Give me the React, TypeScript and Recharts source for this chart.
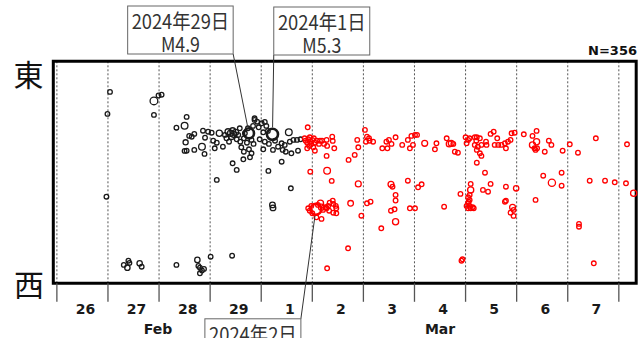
import React from 'react';
import {
  ScatterChart,
  Scatter,
  XAxis,
  YAxis,
  CartesianGrid,
  ReferenceArea,
  ReferenceDot,
  Customized,
} from 'recharts';

// [days since 26 Feb 2024 00:00, east–west position (km from western edge), magnitude]
type Quake = [number, number, number];

const T_MIN = -0.07;
const T_MAX = 11.34;
const EW_MAX = 111;
const RECENT_FROM = 4.8; // events from this time on are drawn in red
const TOTAL_EVENTS = 356;

const DAY_TICKS = [0, 1, 2, 3, 4, 5, 6, 7, 8, 9, 10, 11];
const DAY_LABEL_OFFSET = 0.56; // day labels sit inside each day, slightly right of centre
const DAY_LABELS = ['26', '27', '28', '29', '1', '2', '3', '4', '5', '6', '7'];
const MONTH_TICKS = [1.98, 7.5];
const MONTH_LABELS = ['Feb', 'Mar'];

// largest events, called out with a note box
const quakeFeb29: Quake = [3.76, 75.0, 4.9];
const quakeMar1: Quake = [4.22, 74.5, 5.3];
const quakeMar2: Quake = [5.07, 37.0, 5.2];

const feb26: Quake[] = [
  [0.97, 43.3, 2.2], [0.99, 84.7, 2.4],
];

const feb27: Quake[] = [
  [1.04, 95.7, 2.3], [1.9, 91.2, 4.0], [1.99, 93.9, 2.2], [1.9, 84.2, 2.2],
  [1.31, 9.2, 2.3], [1.4, 11.3, 2.4], [1.42, 10.2, 2.2], [1.38, 7.8, 3.1],
  [1.62, 10.0, 3.1], [1.66, 8.3, 2.3],
];

const feb28: Quake[] = [
  [2.05, 94.3, 2.2], [2.54, 83.2, 2.3], [2.34, 77.8, 2.4], [2.5, 78.8, 3.6],
  [2.59, 73.7, 2.2], [2.64, 73.3, 2.3], [2.69, 74.7, 2.2], [2.86, 76.3, 2.5],
  [2.96, 75.8, 2.3], [2.52, 70.5, 3.0], [2.9, 72.8, 2.2], [2.84, 68.3, 3.6],
  [2.5, 66.2, 2.3], [2.54, 66.3, 2.2], [2.69, 66.7, 2.4], [2.89, 64.7, 2.3],
  [2.34, 9.2, 2.2], [2.75, 11.7, 3.1], [2.77, 8.7, 2.4], [2.8, 7.8, 2.6],
  [2.8, 5.0, 2.3], [2.88, 7.2, 2.2], [2.84, 6.4, 2.5],
];

const feb29: Quake[] = [
  [3.01, 13.3, 2.3], [3.43, 13.8, 2.2], [3.13, 51.7, 2.4], [3.03, 75.3, 2.3],
  [3.18, 75.0, 3.4], [3.29, 74.2, 2.4], [3.35, 75.8, 3.3], [3.4, 75.0, 3.4],
  [3.44, 76.3, 3.3], [3.46, 74.5, 3.4], [3.5, 75.5, 3.3], [3.55, 74.2, 2.5],
  [3.42, 73.3, 3.2], [3.68, 75.0, 2.6], quakeFeb29, [3.87, 81.7, 2.2],
  [3.92, 80.8, 2.3], [3.84, 78.7, 2.4], [3.95, 78.0, 2.2], [3.87, 82.5, 2.3],
  [3.06, 71.3, 2.3], [3.13, 70.3, 2.2], [3.32, 72.5, 2.4], [3.37, 70.8, 2.3],
  [3.52, 72.0, 2.5], [3.59, 70.8, 2.3], [3.66, 72.5, 2.2], [3.72, 70.3, 2.4],
  [3.81, 71.7, 2.3], [3.85, 69.7, 2.2], [3.09, 67.5, 2.3], [3.25, 68.3, 2.4],
  [3.61, 68.0, 2.2], [3.66, 65.8, 2.3], [3.76, 67.0, 2.5], [3.81, 65.0, 2.2],
  [3.65, 62.0, 2.3], [3.78, 63.0, 2.4], [3.44, 60.0, 2.3], [3.52, 56.7, 2.2],
  [3.58, 77.5, 2.3], [3.74, 77.5, 2.4], [3.97, 72.0, 2.3],
];

const mar1: Quake[] = [
  [4.01, 80.0, 2.3], [4.07, 80.7, 2.2], [4.1, 78.7, 2.4], quakeMar1,
  [4.54, 75.5, 3.6], [4.04, 75.5, 2.3], [4.07, 70.8, 2.2], [4.15, 69.7, 2.4],
  [4.27, 71.3, 2.3], [4.33, 68.3, 2.2], [4.4, 70.0, 2.5], [4.46, 69.2, 2.3],
  [4.56, 70.8, 2.2], [4.7, 71.7, 2.4], [4.77, 72.0, 2.3], [4.04, 67.0, 2.2],
  [4.23, 66.7, 2.3], [4.42, 66.7, 2.4], [4.48, 65.8, 2.2], [4.59, 65.0, 2.3],
  [4.72, 66.3, 2.2], [4.4, 60.8, 2.3], [4.14, 56.2, 2.4], [4.58, 47.5, 2.3],
  [4.22, 39.2, 3.2], [4.23, 37.7, 3.2], [4.63, 71.7, 2.3], [4.13, 76.2, 2.2],
  [4.91, 78.0, 2.3], [4.85, 72.5, 2.4], [4.87, 71.3, 2.2], [4.9, 70.3, 2.3],
  [4.92, 72.0, 2.5], [4.95, 73.0, 2.3], [4.96, 70.8, 2.2], [4.98, 69.7, 2.4],
  [4.94, 68.7, 2.3], [4.9, 67.5, 2.2], [4.96, 55.8, 2.3], [4.92, 37.5, 2.4],
  [4.95, 36.3, 2.3], [4.98, 38.7, 2.5],
];

const mar2: Quake[] = [
  [5.0, 71.7, 2.3], [5.03, 72.5, 2.2], [5.05, 70.3, 2.4], [5.02, 68.0, 2.3],
  [5.05, 66.3, 2.2], [5.09, 71.3, 2.3], [5.15, 71.3, 2.4], [5.19, 71.3, 2.2],
  [5.13, 69.7, 2.3], [5.23, 69.7, 2.5], [5.28, 71.7, 2.3], [5.29, 68.7, 2.2],
  [5.39, 73.3, 2.4], [5.4, 71.2, 2.3], [5.43, 67.5, 2.2], [5.28, 63.7, 2.3],
  [5.29, 56.3, 3.6], [5.38, 51.2, 2.3], quakeMar2, [5.0, 35.0, 2.3],
  [5.11, 39.2, 2.4], [5.16, 40.0, 3.4], [5.18, 38.0, 3.4], [5.21, 36.7, 2.3],
  [5.26, 38.0, 2.4], [5.31, 38.7, 2.2], [5.34, 40.3, 2.3], [5.4, 41.3, 2.5],
  [5.41, 39.7, 2.3], [5.46, 38.7, 2.2], [5.47, 37.5, 2.4], [5.33, 36.3, 2.3],
  [5.41, 35.3, 2.2], [5.08, 33.0, 2.3], [5.18, 32.2, 2.4], [5.47, 35.0, 2.3],
  [5.28, 37.5, 2.2], [5.75, 40.0, 3.2], [5.96, 33.8, 2.3], [5.71, 61.7, 2.4],
  [5.83, 64.2, 2.3], [5.9, 68.0, 2.2], [5.88, 71.7, 2.3], [5.9, 49.7, 3.3],
  [5.7, 17.5, 2.4], [5.29, 7.5, 2.3],
];

const mar3: Quake[] = [
  [6.03, 76.7, 2.4], [6.07, 73.3, 2.3], [6.11, 72.5, 2.2], [6.05, 70.8, 2.3],
  [6.19, 70.8, 2.4], [6.12, 71.3, 2.2], [6.07, 40.0, 2.3], [6.14, 40.8, 2.4],
  [6.37, 67.5, 2.3], [6.47, 67.5, 2.2], [6.45, 70.8, 2.4], [6.5, 71.7, 2.3],
  [6.63, 73.0, 2.2], [6.55, 69.7, 2.3], [6.54, 49.5, 3.3], [6.57, 48.3, 2.3],
  [6.63, 44.2, 2.4], [6.63, 41.4, 2.3], [6.61, 37.0, 2.2], [6.54, 36.3, 2.3],
  [6.63, 30.8, 3.4], [6.35, 27.5, 2.3], [6.76, 69.2, 2.3], [6.87, 71.7, 2.4],
  [6.94, 73.7, 2.2], [6.97, 69.2, 2.3], [6.91, 67.5, 2.2], [6.87, 51.3, 2.4],
  [6.91, 37.5, 2.3],
];

const mar4: Quake[] = [
  [7.01, 74.2, 2.3], [7.05, 74.2, 2.2], [7.2, 70.0, 3.3], [7.43, 70.0, 2.3],
  [7.4, 67.0, 2.4], [7.63, 72.5, 2.3], [7.68, 69.7, 3.3], [7.72, 70.0, 3.3],
  [7.76, 69.7, 2.2], [7.79, 65.8, 2.3], [7.85, 65.3, 2.4], [7.07, 48.0, 2.3],
  [7.14, 49.5, 2.4], [7.01, 37.5, 2.2], [7.58, 38.3, 2.3], [7.9, 44.7, 2.4],
  [7.92, 11.3, 2.3], [7.94, 12.0, 2.4],
];

const mar5: Quake[] = [
  [8.0, 73.0, 2.3], [8.05, 71.7, 2.2], [8.08, 72.5, 2.4], [8.18, 73.0, 2.3],
  [8.22, 73.0, 2.2], [8.28, 72.5, 2.4], [8.21, 71.3, 2.3], [8.18, 69.2, 2.5],
  [8.24, 68.3, 2.3], [8.31, 69.2, 2.2], [8.22, 66.7, 2.4], [8.28, 65.0, 2.3],
  [8.31, 63.7, 2.2], [8.4, 70.8, 2.3], [8.41, 69.2, 2.4], [8.49, 74.7, 2.3],
  [8.55, 75.8, 2.2], [8.62, 72.5, 2.3], [8.57, 69.2, 2.4], [8.64, 69.2, 2.2],
  [8.7, 69.2, 2.3], [8.77, 70.0, 2.5], [8.83, 70.8, 2.3], [8.79, 67.5, 2.2],
  [8.9, 75.0, 2.3], [8.96, 75.3, 2.4], [8.22, 60.3, 2.3], [8.38, 55.3, 2.2],
  [8.1, 49.7, 2.4], [8.1, 46.7, 3.4], [8.08, 44.2, 2.3], [8.05, 43.0, 2.4],
  [8.08, 41.7, 2.3], [8.05, 40.0, 2.5], [8.08, 38.7, 2.4], [8.05, 37.5, 2.3],
  [8.1, 37.5, 2.6], [8.14, 38.0, 2.3], [8.16, 37.5, 2.2], [8.02, 38.7, 2.3],
  [8.06, 40.8, 2.4], [8.34, 46.7, 2.3], [8.44, 45.8, 2.2], [8.49, 49.7, 2.3],
  [8.79, 48.3, 2.4], [8.77, 40.8, 2.3], [8.79, 41.3, 2.2], [8.92, 38.0, 3.3],
  [8.94, 36.7, 2.3], [8.88, 35.3, 2.4], [8.94, 33.7, 2.3], [8.99, 47.5, 3.1],
  [8.02, 70.0, 2.3], [8.88, 71.7, 2.3],
];

const mar6: Quake[] = [
  [9.14, 74.5, 2.3], [9.31, 73.7, 2.2], [9.39, 76.2, 2.4], [9.39, 70.8, 3.4],
  [9.31, 69.2, 3.4], [9.35, 67.5, 2.3], [9.37, 66.7, 2.2], [9.4, 67.5, 2.4],
  [9.55, 65.8, 2.3], [9.63, 71.3, 2.3], [9.68, 69.2, 2.4], [9.9, 66.3, 2.3],
  [9.52, 53.8, 2.3], [9.88, 55.3, 2.2], [9.69, 50.3, 3.8], [9.88, 48.8, 2.3],
  [9.37, 41.7, 2.4],
];

const mar7: Quake[] = [
  [10.04, 69.5, 2.3], [10.2, 65.3, 2.4], [10.55, 72.5, 2.3], [10.43, 51.3, 2.3],
  [10.73, 51.3, 2.4], [10.92, 50.5, 2.3], [10.22, 29.7, 2.3], [10.22, 28.3, 2.4],
  [10.51, 10.0, 2.3],
];

const mar8: Quake[] = [
  [11.16, 69.5, 2.3], [11.14, 50.0, 2.3], [11.29, 45.0, 3.4],
];

const NOTES = [
  { quake: quakeFeb29, date: '2024年29日' },
  { quake: quakeMar1, date: '2024年1日' },
  { quake: quakeMar2, date: '2024年2日' },
];

// box placement relative to the event, and which corner the leader leaves from
const NOTE_LAYOUT = [
  { dx: -121.3, dy: -127.3, w: 105.5, h: 48, corner: 'br' },
  { dx: 1.3, dy: -127.3, w: 96, h: 48, corner: 'bl' },
  { dx: -111, dy: 109.5, w: 96, h: 48, corner: 'tr' },
];

const allQuakes: Quake[] = [
  ...feb26, ...feb27, ...feb28, ...feb29, ...mar1, ...mar2,
  ...mar3, ...mar4, ...mar5, ...mar6, ...mar7, ...mar8,
];
const toPoint = ([t, ew, mag]: Quake) => ({ t, ew, mag });
const olderEvents = allQuakes.filter((q) => q[0] < RECENT_FROM).map(toPoint);
const recentEvents = allQuakes.filter((q) => q[0] >= RECENT_FROM).map(toPoint);

const markRadius = (mag: number) => 2.3 + Math.max(0, mag - 2.8) * 1.3;
const markStroke = (mag: number) => (mag >= 4.5 ? 2.6 : 1.3);

const CHART_W = 639;
const CHART_H = 338;
const MARGIN = { top: 61.3, right: 2.8, bottom: 0, left: 53.3 };
const X_AXIS_H = 54.7;
const DAY_PX = (CHART_W - MARGIN.left - MARGIN.right) / (T_MAX - T_MIN);

const JP_FONT = "'Noto Sans CJK JP', 'Noto Sans CJK SC', sans-serif";
const LATIN_FONT = "'DejaVu Sans', Verdana, sans-serif";
const NOTE_EM = 19.5;
const monoWidth = (s: string) =>
  Array.from(s).reduce((w, ch) => w + (ch.charCodeAt(0) > 0xff ? 1 : 0.5), 0) * NOTE_EM;

const makeMark = (color: string) => (props: any) => {
  const { cx, cy, payload } = props;
  if (cx == null || cy == null) return <g />;
  return (
    <circle
      cx={cx}
      cy={cy}
      r={markRadius(payload.mag)}
      fill="none"
      stroke={color}
      strokeWidth={markStroke(payload.mag)}
    />
  );
};

const axisTextStyle = {
  fontFamily: LATIN_FONT,
  fontSize: 14,
  fontWeight: 700,
  fill: '#1a1a1a',
};

// day number between two day boundaries, plus the month name under the row
const DayTick = (props: any) => {
  const { x, y, payload } = props;
  const day = payload.value as number;
  const label = DAY_LABELS[day];
  const months = MONTH_TICKS.map((m, i) => ({ m, i })).filter(({ m }) => Math.round(m) === day);
  return (
    <g>
      {label != null && (
        <text x={x + DAY_LABEL_OFFSET * DAY_PX} y={y + 10.3} textAnchor="middle" {...axisTextStyle}>
          {label}
        </text>
      )}
      {months.map(({ m, i }) => (
        <text
          key={MONTH_LABELS[i]}
          x={x + (m - day) * DAY_PX}
          y={y + 30.3}
          textAnchor="middle"
          {...axisTextStyle}
        >
          {MONTH_LABELS[i]}
        </text>
      ))}
    </g>
  );
};

const NoteCallout = (props: any) => {
  const { cx, cy, note, layout } = props;
  if (cx == null || cy == null) return <g />;
  const { dx, dy, w, h, corner } = layout;
  const bx = cx + dx;
  const by = cy + dy;
  const ax = corner.includes('r') ? bx + w : bx;
  const ay = corner.includes('b') ? by + h : by;
  const mag = note.quake[2];
  const rr = markRadius(mag) + markStroke(mag) / 2;
  const len = Math.hypot(cx - ax, cy - ay);
  const ex = cx - ((cx - ax) / len) * rr;
  const ey = cy - ((cy - ay) / len) * rr;
  const magText = `M${mag.toFixed(1)}`;
  return (
    <g>
      <line x1={ax} y1={ay} x2={ex} y2={ey} stroke="#333" strokeWidth={1} />
      <rect x={bx} y={by} width={w} height={h} fill="#fff" stroke="#666" strokeWidth={1} />
      <text
        x={bx + w / 2}
        y={by + 23}
        textAnchor="middle"
        fontFamily={JP_FONT}
        fontSize={20}
        fill="#333"
        textLength={monoWidth(note.date)}
        lengthAdjust="spacingAndGlyphs"
      >
        {note.date}
      </text>
      <text
        x={bx + w / 2}
        y={by + 46}
        textAnchor="middle"
        fontFamily={JP_FONT}
        fontSize={20}
        fill="#333"
        textLength={monoWidth(magText)}
        lengthAdjust="spacingAndGlyphs"
      >
        {magText}
      </text>
    </g>
  );
};

const SideLabels = () => (
  <g>
    <text x={28.5} y={73} textAnchor="middle" dominantBaseline="central" fontFamily={JP_FONT} fontSize={30} fill="#111">
      東
    </text>
    <text x={29} y={282.5} textAnchor="middle" dominantBaseline="central" fontFamily={JP_FONT} fontSize={30} fill="#111">
      西
    </text>
    <text x={637} y={55} textAnchor="end" fontFamily={LATIN_FONT} fontSize={13} fontWeight={700} fill="#111">
      {`N=${TOTAL_EVENTS}`}
    </text>
  </g>
);

export default function App() {
  return (
    <div style={{ position: 'absolute', left: 0, top: 0, width: CHART_W, height: CHART_H, background: '#fff' }}>
      <ScatterChart width={CHART_W} height={CHART_H} margin={MARGIN}>
        <CartesianGrid horizontal={false} stroke="#555" strokeDasharray="2 2" />
        <XAxis
          type="number"
          dataKey="t"
          domain={[T_MIN, T_MAX]}
          ticks={DAY_TICKS}
          interval={0}
          tick={<DayTick />}
          tickSize={18.5}
          tickMargin={2}
          axisLine={false}
          tickLine={{ stroke: '#555', strokeWidth: 1.3 }}
          height={X_AXIS_H}
        />
        <YAxis type="number" dataKey="ew" domain={[0, EW_MAX]} hide />
        <ReferenceArea
          x1={T_MIN}
          x2={T_MAX}
          y1={0}
          y2={EW_MAX}
          fill="none"
          fillOpacity={0}
          stroke="#000"
          strokeWidth={3}
        />
        <Scatter data={olderEvents} shape={makeMark('#1a1a1a')} isAnimationActive={false} />
        <Scatter data={recentEvents} shape={makeMark('#ff0000')} isAnimationActive={false} />
        {NOTES.map((note, i) => (
          <ReferenceDot
            key={note.date}
            x={note.quake[0]}
            y={note.quake[1]}
            r={0}
            ifOverflow="visible"
            shape={(p: any) => <NoteCallout {...p} note={note} layout={NOTE_LAYOUT[i]} />}
          />
        ))}
        <Customized component={SideLabels} />
      </ScatterChart>
    </div>
  );
}
